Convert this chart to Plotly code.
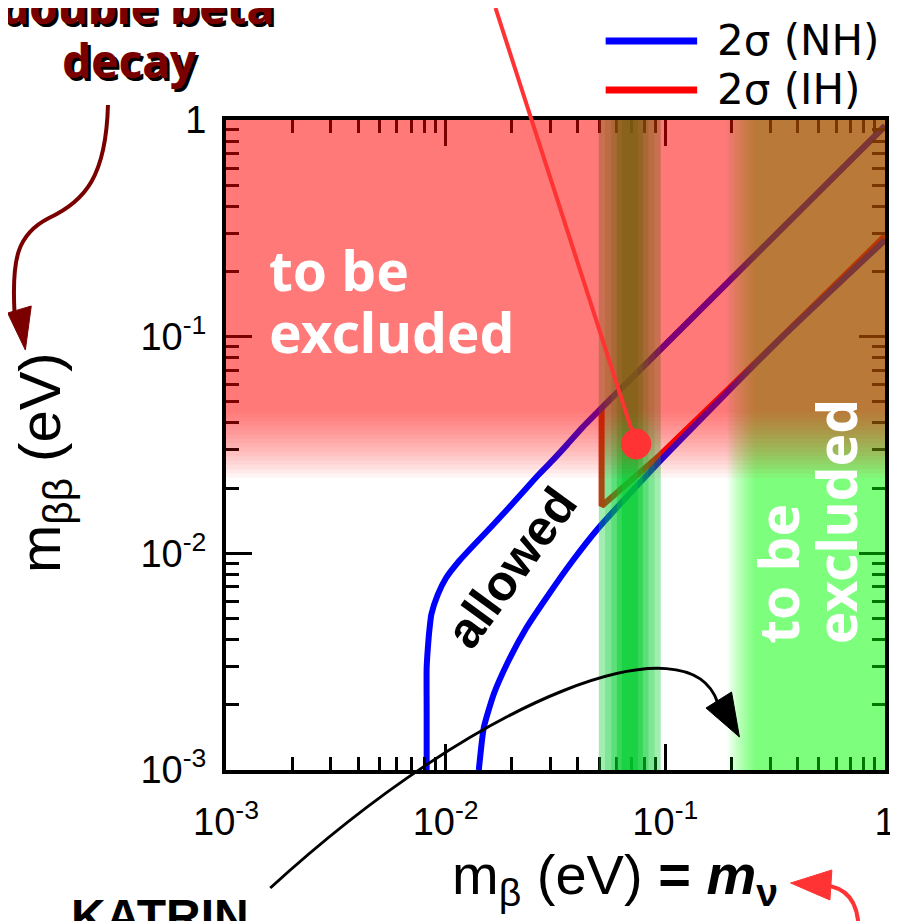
import math
import plotly.graph_objects as go

# ---------------- data ----------------
# 2 sigma NH band: upper/left boundary and lower/right boundary
nh_upper_x = [0.008193, 0.008193, 0.008193, 0.008365, 0.008452, 0.008601, 0.009205, 0.010037,
              0.011514, 0.013441, 0.016012, 0.01888, 0.022497, 0.026271, 0.030667, 0.035793,
              0.041776, 0.051334, 1.0]
nh_upper_y = [0.001, 0.001932, 0.002957, 0.004066, 0.004521, 0.005209, 0.006443, 0.007692,
              0.009218, 0.010926, 0.013157, 0.01576, 0.019187, 0.022864, 0.026846, 0.031829,
              0.037924, 0.046871, 0.9382]
nh_lower_x = [0.014154, 0.0149, 0.016517, 0.019276, 0.023281, 0.029118, 0.037691, 0.049614,
              0.094647, 0.32614, 1.0]
nh_lower_y = [0.001, 0.001562, 0.002226, 0.003176, 0.004521, 0.006355, 0.009188, 0.013088,
              0.026672, 0.0955, 0.27925]
# 2 sigma IH outline
ih_x = [1.0, 0.0513, 0.0513, 0.0946, 0.196, 1.0]
ih_y = [0.9382, 0.0469, 0.01654, 0.02843, 0.05796, 0.2915]

# sensitivity regions ("to be excluded")
dbd_solid = 0.0445      # m_bb above which region is fully shaded
dbd_fade = 0.0223       # shading fades out here
katrin_excl_fade = 0.192
katrin_excl_solid = 0.255
katrin_band = [0.0498, 0.069, 0.0953]   # low, centre, high (KATRIN sensitivity band)

x_tickvals = [0.001, 0.01, 0.1, 1]
x_ticktext = ["10<sup>-3</sup>", "10<sup>-2</sup>", "10<sup>-1</sup>", "1"]
y_tickvals = [0.001, 0.01, 0.1, 1]
y_ticktext = ["10<sup>-3</sup>", "10<sup>-2</sup>", "10<sup>-1</sup>", "1"]
minor_vals = [d * m for d in [0.001, 0.01, 0.1] for m in range(2, 10)]

# ---------------- layout geometry ----------------
W, H = 898, 921
L, R, T, B = 218, 10, 112, 159
PW = W - L - R
PH = H - T - B


def px(x):
    return (x - L) / PW


def py(y):
    return (H - B - y) / PH


def path(cmds):
    out = []
    for c in cmds:
        if isinstance(c, str):
            out.append(c)
        else:
            out.append(f"{px(c[0]):.5f},{py(c[1]):.5f}")
    return " ".join(out)


fig = go.Figure()

fig.add_trace(go.Scatter(x=ih_x, y=ih_y, mode="lines", name="2σ (IH)",
                         line=dict(color="#ff0000", width=6), showlegend=False))
fig.add_trace(go.Scatter(x=nh_upper_x, y=nh_upper_y, mode="lines", name="2σ (NH)",
                         line=dict(color="#0000ff", width=6, shape="spline", smoothing=0.5),
                         showlegend=False))
fig.add_trace(go.Scatter(x=nh_lower_x, y=nh_lower_y, mode="lines", name="2σ (NH) ",
                         line=dict(color="#0000ff", width=6, shape="spline", smoothing=0.5),
                         showlegend=False))

shapes = []

# KATRIN sensitivity band (green, nested rectangles -> darker towards centre)
lo, c, hi = [math.log10(v) for v in katrin_band]
levels = [(1.0, 0.36), (0.8, 0.22), (0.6, 0.28), (0.42, 0.42), (0.26, 0.5)]
for frac, alpha in levels:
    a0 = c - (c - lo) * frac
    a1 = c + (hi - c) * frac
    shapes.append(dict(type="rect", xref="x", yref="y", layer="above",
                       x0=10 ** a0, x1=10 ** a1, y0=0.0009, y1=1.1,
                       fillcolor=f"rgba(0,205,45,{alpha})", line=dict(width=0)))

# KATRIN exclusion (green, right side) with left fade (nested layers)
a_lo, a_hi = math.log10(katrin_excl_fade), math.log10(katrin_excl_solid)
N = 14
a_layer = 1 - 0.5 ** (1 / N)
for i in range(N):
    a0 = a_lo + (a_hi - a_lo) * i / (N - 1)
    shapes.append(dict(type="rect", xref="x", yref="y", layer="above",
                       x0=10 ** a0, x1=1.1, y0=0.0009, y1=1.1,
                       fillcolor=f"rgba(0,255,0,{a_layer:.4f})", line=dict(width=0)))

# double beta decay exclusion (red, top) with lower fade (nested layers)
b_lo, b_hi = math.log10(dbd_fade), math.log10(dbd_solid)
N = 16
b_layer = 1 - 0.5 ** (1 / N)
for i in range(N):
    a0 = b_lo + (b_hi - b_lo) * i / (N - 1)
    shapes.append(dict(type="rect", xref="x", yref="y", layer="above",
                       x0=0.0009, x1=1.1, y0=10 ** a0, y1=1.1,
                       fillcolor=f"rgba(255,0,0,{b_layer:.4f})", line=dict(width=0)))

# KATRIN pointer curve (black) with arrow head
shapes.append(dict(type="path", xref="paper", yref="paper", layer="above",
                   path=path(["M", (263, 880), "C", (480, 685), (690, 610), (718, 695)]),
                   line=dict(color="black", width=3)))
shapes.append(dict(type="path", xref="paper", yref="paper", layer="above",
                   path=path(["M", (706, 700), "L", (732, 684), "L", (740, 729), "Z"]),
                   fillcolor="black", line=dict(color="black", width=1)))

# dark red arrow from "double beta decay"
shapes.append(dict(type="path", xref="paper", yref="paper", layer="above",
                   path=path(["M", (98, 97), "C", (96, 168), (75, 193), (38, 210),
                              "C", (6, 226), (0, 250), (3, 305)]),
                   line=dict(color="#7a0000", width=4)))
shapes.append(dict(type="path", xref="paper", yref="paper", layer="above",
                   path=path(["M", (-4, 305), "L", (20, 298), "L", (14, 342), "Z"]),
                   fillcolor="#7a0000", line=dict(color="#7a0000", width=1)))

# red arrow bottom right
shapes.append(dict(type="path", xref="paper", yref="paper", layer="above",
                   path=path(["M", (861, 925), "C", (862, 895), (850, 879), (825, 877)]),
                   line=dict(color="#ff3333", width=4)))
shapes.append(dict(type="path", xref="paper", yref="paper", layer="above",
                   path=path(["M", (792, 875), "L", (834, 862), "L", (832, 892), "Z"]),
                   fillcolor="#ff3333", line=dict(color="#ff3333", width=1)))

# red pointer line and dot
shapes.append(dict(type="line", xref="paper", yref="paper", layer="above",
                   x0=px(492), y0=py(0), x1=px(635), y1=py(436),
                   line=dict(color="#ff3333", width=4)))
shapes.append(dict(type="circle", xref="paper", yref="paper", layer="above",
                   x0=px(620), x1=px(650), y0=py(451), y1=py(421),
                   fillcolor="#ff3333", line=dict(color="#ff3333", width=1)))

# legend lines
shapes.append(dict(type="line", xref="paper", yref="paper", layer="above",
                   x0=px(604), x1=px(697), y0=py(33), y1=py(33),
                   line=dict(color="#0000ff", width=7)))
shapes.append(dict(type="line", xref="paper", yref="paper", layer="above",
                   x0=px(604), x1=px(697), y0=py(82), y1=py(82),
                   line=dict(color="#ff0000", width=7)))

ann = []


def A(text, x, y, size, color="black", family="Liberation Sans", xa="center", ya="middle",
      angle=0, align="center"):
    ann.append(dict(text=text, x=px(x), y=py(y), xref="paper", yref="paper",
                    showarrow=False, xanchor=xa, yanchor=ya, textangle=angle, align=align,
                    font=dict(size=size, color=color, family=family)))


# legend texts
A("2σ (NH)", 715, 33, 42, family="DejaVu Sans", xa="left")
A("2σ (IH)", 715, 81, 42, family="DejaVu Sans", xa="left")

# double beta decay label with shadow
for dx, col in [(3, "black"), (0, "#7a0000")]:
    A("<b>double beta</b>", 128 + dx, -2 + dx, 46, color=col, family="Noto Sans")
    A("<b>decay</b>", 120 + dx, 52 + dx, 46, color=col, family="Noto Sans")

A("<b>KATRIN</b>", 151, 880, 48, family="Liberation Sans", ya="top")

# region labels
A("<b>to be</b>", 260, 261, 55, color="white", family="Noto Sans", xa="left")
A("<b>excluded</b>", 260, 323, 55, color="white", family="Noto Sans", xa="left")
A("<b>to be</b>", 778, 638, 55, color="white", family="Noto Sans", angle=-90, ya="bottom")
A("<b>excluded</b>", 838, 638, 55, color="white", family="Noto Sans", angle=-90, ya="bottom")
A("<b>allowed</b>", 508, 560, 50, family="Liberation Sans", angle=-54)

# axis titles
A("m<sub>ββ</sub> (eV)", 33, 455, 58, angle=-90)
A("m<sub>β</sub> (eV) <b>= <i>m</i><sub>ν</sub></b>", 614, 870, 56)

axis_common = dict(type="log", range=[-3, 0], showgrid=False, zeroline=False,
                   showline=True, linewidth=4, linecolor="black", mirror="ticks",
                   ticks="inside", ticklen=26, tickwidth=3, tickcolor="black",
                   tickfont=dict(size=38, family="Liberation Sans", color="black"),
                   minor=dict(tickmode="array", tickvals=minor_vals, ticks="inside",
                              ticklen=13, tickwidth=3, tickcolor="black", showgrid=False))

fig.update_layout(
    width=W, height=H,
    margin=dict(l=L, r=R, t=T, b=B),
    paper_bgcolor="white", plot_bgcolor="white",
    showlegend=False,
    xaxis=dict(axis_common, tickmode="array", tickvals=x_tickvals, ticktext=x_ticktext,
               ticklabelstandoff=15),
    yaxis=dict(axis_common, tickmode="array", tickvals=y_tickvals, ticktext=y_ticktext,
               ticklabelstandoff=8),
    shapes=shapes,
    annotations=ann,
    font=dict(family="Liberation Sans", color="black"),
)

fig.write_html("out.html")
